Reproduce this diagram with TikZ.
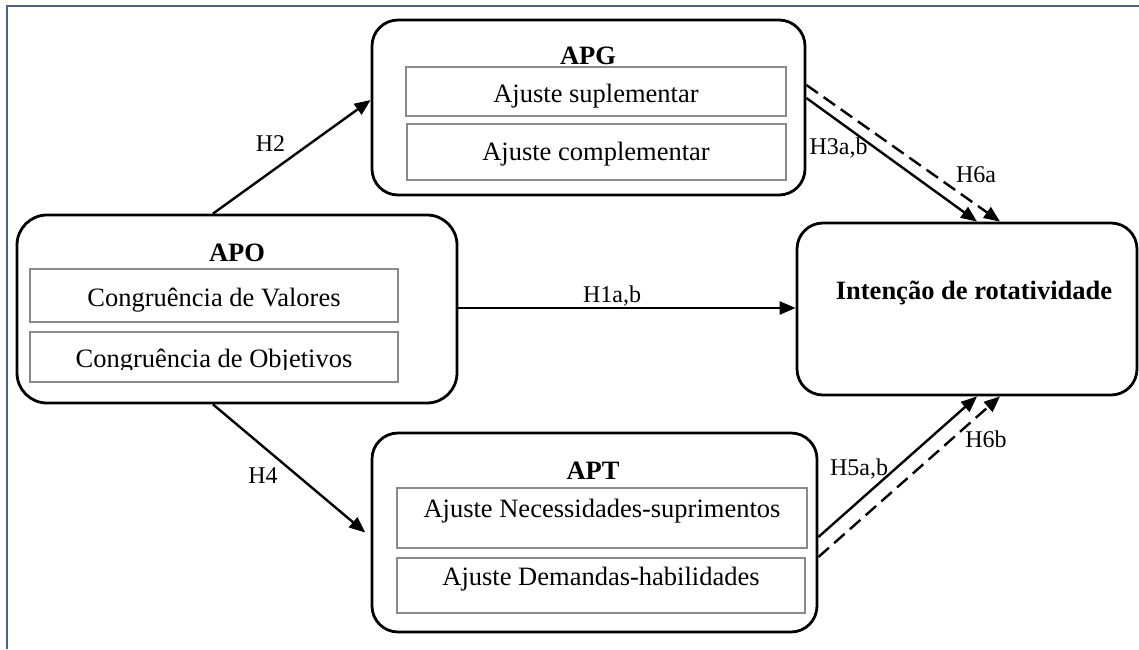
\documentclass[tikz,border=0pt]{standalone}
\usepackage{fontspec}
\setmainfont{Liberation Serif}
\usetikzlibrary{arrows.meta}
\definecolor{framecol}{RGB}{79,98,128}
\definecolor{subgray}{RGB}{138,138,138}
\tikzset{
  outerbox/.style={draw=black, line width=2.8pt, rounded corners=26pt, inner sep=0pt},
  subbox/.style={draw=subgray, line width=2.6pt, inner sep=0pt},
  boxtext/.style={font=\fontsize{26.5}{30}\selectfont, anchor=base, inner sep=0pt},
  titletext/.style={font=\fontsize{26.5}{30}\selectfont\bfseries, anchor=base, inner sep=0pt},
  hlabel/.style={font=\fontsize{24}{28}\selectfont, anchor=base, inner sep=0pt},
  arr/.style={line width=2.4pt, -{Triangle[length=16pt,width=13pt]}},
  darr/.style={arr, dash pattern=on 14pt off 7pt},
}
\begin{document}
\begin{tikzpicture}[x=1pt,y=-1pt]
\useasboundingbox (0,0) rectangle (1139,649);
% frame
\draw[framecol, line width=1.6pt] (7,649) -- (7,6) -- (1139,6);

% APG
\node[outerbox, minimum width=433pt, minimum height=175pt] (apg) at (588.5,107.5) {};
\node[subbox, minimum width=380pt, minimum height=49pt] (apg1) at (596,91.5) {};
\node[subbox, minimum width=379pt, minimum height=56pt] (apg2) at (596.5,152) {};
\node[titletext] (apgt) at (588,64) {APG};
\node[boxtext] (apg1t) at (596,102) {Ajuste suplementar};
\node[boxtext] (apg2t) at (596,160) {Ajuste complementar};

% APO
\node[outerbox, rounded corners=30pt, minimum width=440pt, minimum height=188pt] (apo) at (237,309) {};
\node[subbox, minimum width=368pt, minimum height=53pt] (apo1) at (214,295.5) {};
\node[titletext] (apot) at (237,261) {APO};
\node[boxtext] (apo1t) at (214,306) {Congruência de Valores};
\begin{scope}
\clip (30,332) rectangle (398,369);
\node[boxtext] (apo2t) at (214,367) {Congruência de Objetivos};
\end{scope}
\node[subbox, minimum width=368pt, minimum height=50pt] (apo2) at (214,357) {};

% APT
\node[outerbox, minimum width=445pt, minimum height=199pt] (apt) at (594.5,532.5) {};
\node[subbox, minimum width=410pt, minimum height=60pt] (apt1) at (602,518) {};
\node[subbox, minimum width=408pt, minimum height=55pt] (apt2) at (601,585.5) {};
\node[titletext] (aptt) at (593,479) {APT};
\node[boxtext] (apt1t) at (602,517) {Ajuste Necessidades-suprimentos};
\node[boxtext] (apt2t) at (601,585) {Ajuste Demandas-habilidades};

% Intencao
\node[outerbox, minimum width=340pt, minimum height=172pt] (int) at (967,309) {};
\node[titletext] (intt) at (974,299) {Intenção de rotatividade};

% connectors
\draw[arr] (apo.north -| 213,0) -- (apg.west |- 0,100);
\draw[arr, shorten >=7pt] (apo.south -| 213,0) -- (apt.west |- 0,537);
\draw[arr] (apo.east |- 0,308) -- (int.west |- 0,308);
\draw[arr] (apg.east |- 0,98) -- (int.north -| 977,0);
\draw[darr] (apg.east |- 0,85) -- (int.north -| 1000,0);
\draw[arr] (apt.east |- 0,537) -- (int.south -| 977,0);
\draw[darr] (apt.east |- 0,557) -- (int.south -| 1000,0);

% labels
\node[hlabel] (h2) at (270.5,151) {H2};
\node[hlabel] (h4) at (263,483) {H4};
\node[hlabel] (h1) at (612,302) {H1a,b};
\node[hlabel] (h3) at (838.5,154) {H3a,b};
\node[hlabel] (h6a) at (976,182) {H6a};
\node[hlabel] (h5) at (859,475) {H5a,b};
\node[hlabel] (h6b) at (986,447) {H6b};
\end{tikzpicture}
\end{document}
